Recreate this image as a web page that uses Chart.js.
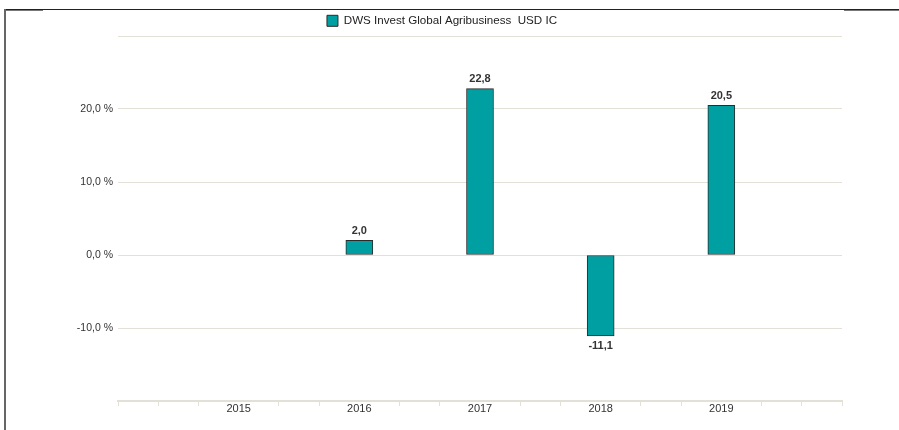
<!DOCTYPE html>
<html>
<head>
<meta charset="utf-8">
<script src="https://cdn.jsdelivr.net/npm/chart.js@4.4.1/dist/chart.umd.min.js"></script>
<style>
  html, body { margin: 0; padding: 0; background: #fff; }
  #wrap { position: relative; width: 899px; height: 430px; overflow: hidden; }
  #wrap canvas { position: absolute; left: 0; top: 0; }
  .ln { position: absolute; }
</style>
</head>
<body>
<div id="wrap">
  <div class="ln" style="left:4px;top:9px;width:895px;height:1px;background:#222;"></div>
  <div class="ln" style="left:4px;top:10px;width:39px;height:1px;background:#777;"></div>
  <div class="ln" style="left:844px;top:10px;width:55px;height:1px;background:#777;"></div>
  <div class="ln" style="left:4px;top:9px;width:2px;height:421px;background:#666;"></div>
  <canvas id="chart" width="899" height="430"></canvas>
</div>
<script>
const years = [2015, 2016, 2017, 2018, 2019];
const returns = [null, 2.0, 22.8, -11.1, 20.5];
const seriesName = 'DWS Invest Global Agribusiness  USD IC';
const yTickValues = [-10, 0, 10, 20];

const barColor = '#00a0a2';
const gridColor = '#e3e0d8';
const fontFamily = '"Liberation Sans", Arial, Helvetica, sans-serif';

const fmt = v => v.toFixed(1).replace('.', ',');

// value labels on top / below bars
const valueLabels = {
  id: 'valueLabels',
  afterDatasetsDraw(chart) {
    const ctx = chart.ctx;
    const meta = chart.getDatasetMeta(0);
    ctx.save();
    ctx.font = 'bold 11px ' + fontFamily;
    ctx.fillStyle = '#333';
    ctx.textAlign = 'center';
    meta.data.forEach((bar, i) => {
      const v = chart.data.datasets[0].data[i].y;
      if (v == null) return;
      if (v >= 0) {
        ctx.textBaseline = 'bottom';
        ctx.fillText(fmt(v), bar.x, bar.y - 4);
      } else {
        ctx.textBaseline = 'top';
        ctx.fillText(fmt(v), bar.x, bar.y + 4);
      }
    });
    ctx.restore();
  }
};

const legendHeight = {
  id: 'legendHeight',
  beforeInit(chart) {
    const fit = chart.legend.fit;
    chart.legend.fit = function () {
      fit.bind(chart.legend)();
      this.height = 36;
    };
  }
};

const isYearLabel = v => Math.abs(v - Math.round(v)) < 1e-6 && years.includes(Math.round(v));

new Chart(document.getElementById('chart'), {
  type: 'bar',
  data: {
    datasets: [{
      label: seriesName,
      data: years.map((y, i) => ({ x: y, y: returns[i] })),
      backgroundColor: barColor,
      borderColor: '#2b2b2b',
      borderWidth: 1,
      borderSkipped: false,
      barThickness: 27
    }]
  },
  options: {
    responsive: false,
    animation: false,
    layout: { padding: { left: 42, right: 57, top: 0, bottom: 0 } },
    plugins: {
      legend: {
        position: 'top',
        labels: {
          boxWidth: 11,
          boxHeight: 11,
          color: '#222',
          padding: 15,
          font: { family: fontFamily, size: 11.6 }
        }
      },
      tooltip: { enabled: false }
    },
    scales: {
      x: {
        type: 'linear',
        offset: false,
        min: 2014,
        max: 2020,
        afterBuildTicks(scale) {
          const t = [];
          for (let i = 0; i <= 18; i++) t.push({ value: 2014 + i / 3 });
          scale.ticks = t;
        },
        afterFit(scale) { scale.height = 29; },
        border: { display: true, color: gridColor, width: 2 },
        grid: {
          offset: false,
          drawOnChartArea: false,
          drawTicks: true,
          tickLength: 5,
          color: ctx => (ctx.tick && isYearLabel(ctx.tick.value)) ? 'rgba(0,0,0,0)' : gridColor
        },
        ticks: {
          autoSkip: false,
          maxRotation: 0,
          padding: -4,
          color: '#333',
          font: { family: fontFamily, size: 11 },
          callback: v => isYearLabel(v) ? String(Math.round(v)) : ''
        }
      },
      y: {
        min: -20,
        max: 30,
        afterBuildTicks(scale) {
          scale.ticks = [-20, -10, 0, 10, 20, 30].map(v => ({ value: v }));
        },
        afterFit(scale) { scale.width = 76; },
        border: { display: false },
        grid: { color: gridColor, drawTicks: false, lineWidth: 1 },
        ticks: {
          padding: 5,
          color: '#333',
          font: { family: fontFamily, size: 10.5 },
          callback: v => yTickValues.includes(v) ? fmt(v) + ' %' : ''
        }
      }
    }
  },
  plugins: [valueLabels, legendHeight]
});
</script>
</body>
</html>
